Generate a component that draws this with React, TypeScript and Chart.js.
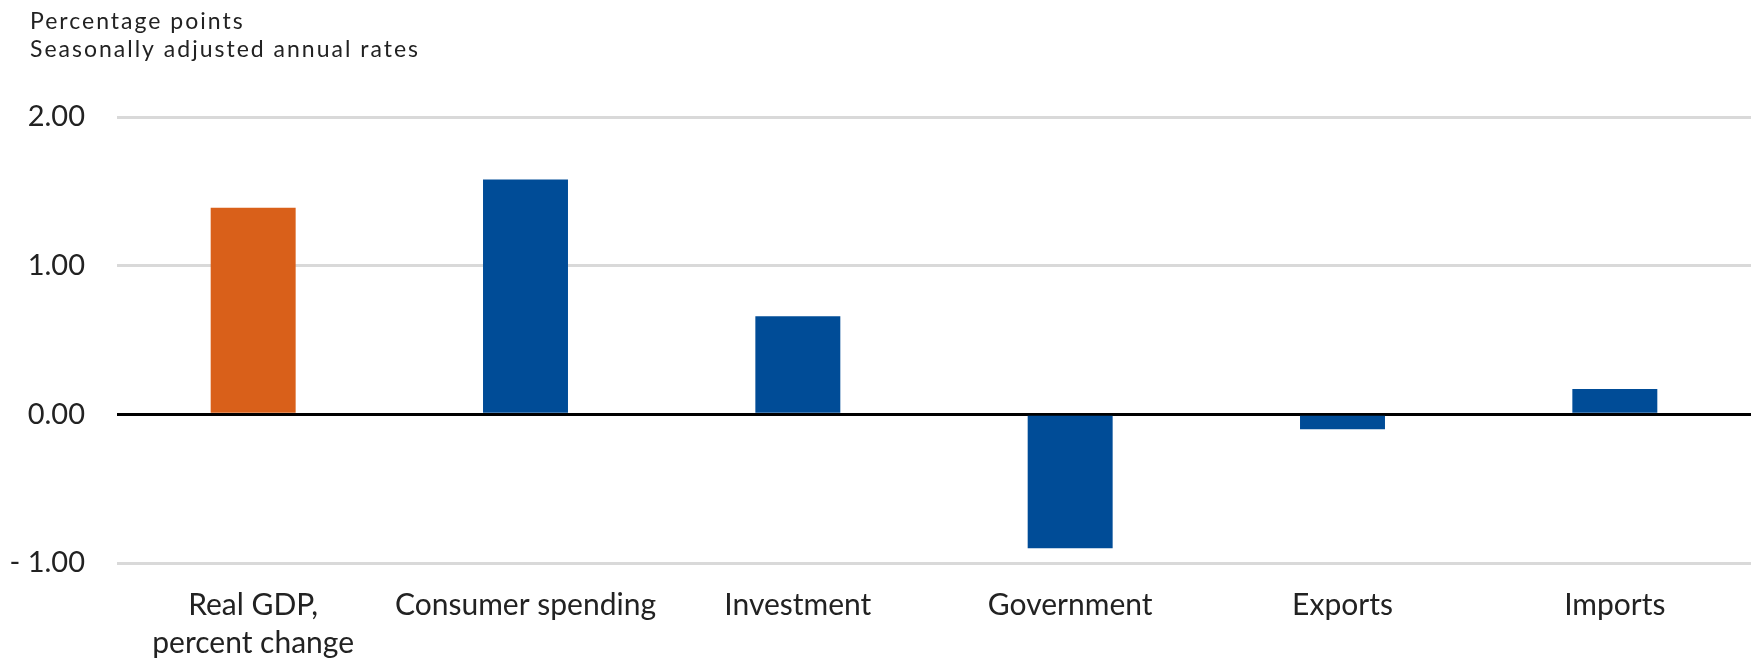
import React, { useEffect, useRef } from 'react';
import { Chart, registerables } from 'chart.js';

Chart.register(...registerables);

const categories: (string | string[])[] = [
  ['Real GDP,', 'percent change'],
  'Consumer spending',
  'Investment',
  'Government',
  'Exports',
  'Imports',
];
const values: number[] = [1.39, 1.58, 0.66, -0.9, -0.1, 0.17];
const barColors: string[] = ['#D9601A', '#004C97', '#004C97', '#004C97', '#004C97', '#004C97'];
const titleLines: string[] = ['Percentage points', 'Seasonally adjusted annual rates'];
const yTicks: number[] = [-1, 0, 1, 2];

const FONT = 'Lato, "Open Sans", sans-serif';
const TEXT = '#222222';

const headerPlugin = {
  id: 'headerText',
  afterDraw(chart: any) {
    const ctx = chart.ctx as CanvasRenderingContext2D;
    ctx.save();
    ctx.font = `23px ${FONT}`;
    ctx.fillStyle = TEXT;
    ctx.textAlign = 'left';
    ctx.textBaseline = 'alphabetic';
    (ctx as any).letterSpacing = '2px';
    titleLines.forEach((t, i) => ctx.fillText(t, 30, 28.5 + i * 28.4));
    ctx.restore();
  },
};

export default function App() {
  const ref = useRef<HTMLCanvasElement | null>(null);

  useEffect(() => {
    if (!ref.current) return;
    const chart = new Chart(ref.current, {
      type: 'bar',
      data: {
        labels: categories,
        datasets: [
          {
            data: values,
            backgroundColor: barColors,
            borderWidth: 0,
            categoryPercentage: 1,
            barPercentage: 0.312,
          },
        ],
      },
      options: {
        animation: false,
        responsive: true,
        maintainAspectRatio: false,
        layout: { padding: { top: 117, left: 0, right: 8, bottom: 0 } },
        plugins: {
          legend: { display: false },
          tooltip: { enabled: false },
        },
        scales: {
          x: {
            grid: { display: false, drawTicks: false },
            border: { display: false },
            ticks: {
              color: TEXT,
              padding: 23,
              maxRotation: 0,
              autoSkip: false,
              font: { family: FONT, size: 30, lineHeight: 1.27 },
            },
            afterFit(scale: any) {
              scale.height = 101;
            },
          },
          y: {
            min: -1,
            max: 2,
            grid: {
              drawTicks: false,
              lineWidth: 3,
              color: (c: any) => (c.tick && c.tick.value === 0 ? '#000000' : '#D9D9D9'),
            },
            border: { display: false },
            afterBuildTicks(scale: any) {
              scale.ticks = yTicks.map((v) => ({ value: v }));
            },
            afterFit(scale: any) {
              scale.width = 117;
            },
            ticks: {
              color: TEXT,
              padding: 32,
              font: { family: FONT, size: 29 },
              callback: (v: any) => {
                const n = Number(v);
                return n < 0 ? '- ' + Math.abs(n).toFixed(2) : n.toFixed(2);
              },
            },
          },
        },
      },
      plugins: [headerPlugin],
    });
    return () => chart.destroy();
  }, []);

  return (
    <div style={{ position: 'fixed', left: 0, top: 0, width: 1759, height: 664, background: '#ffffff' }}>
      <canvas ref={ref} />
    </div>
  );
}
